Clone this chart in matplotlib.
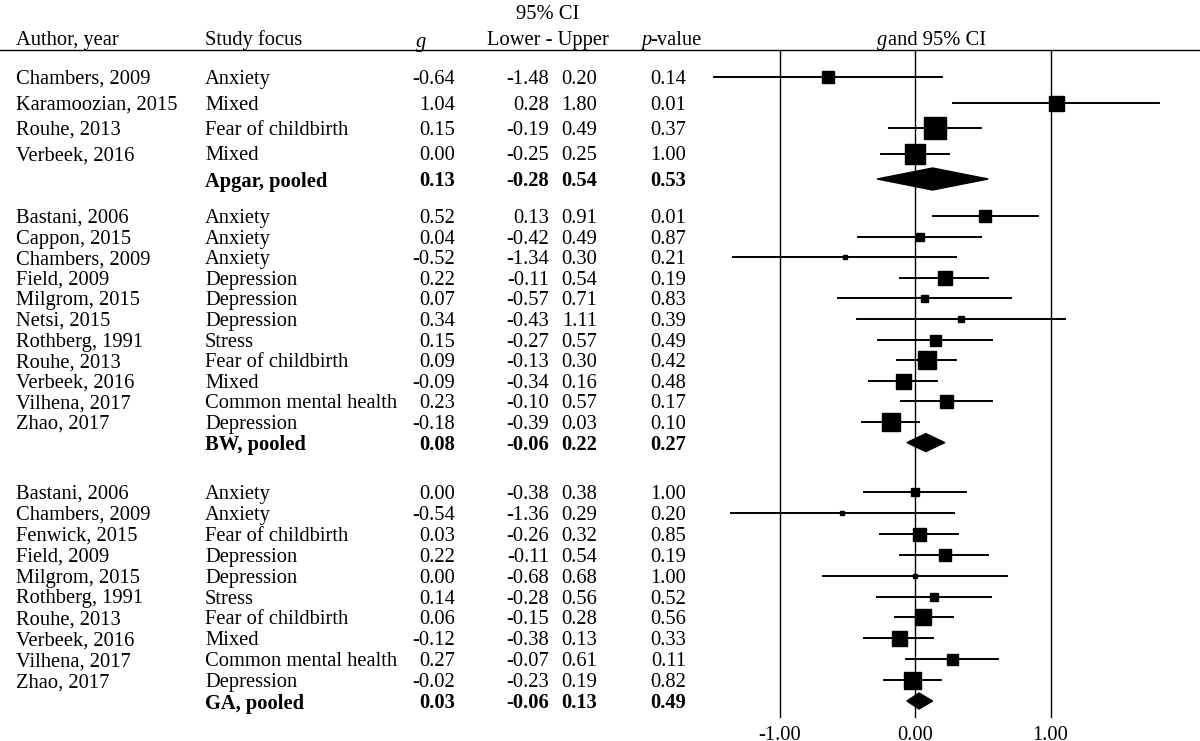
import matplotlib
matplotlib.use("Agg")
import matplotlib.pyplot as plt
from matplotlib.patches import Polygon

authors = [["Chambers, 2009","Karamoozian, 2015","Rouhe, 2013","Verbeek, 2016"],
 ["Bastani, 2006","Cappon, 2015","Chambers, 2009","Field, 2009","Milgrom, 2015","Netsi, 2015","Rothberg, 1991","Rouhe, 2013","Verbeek, 2016","Vilhena, 2017","Zhao, 2017"],
 ["Bastani, 2006","Chambers, 2009","Fenwick, 2015","Field, 2009","Milgrom, 2015","Rothberg, 1991","Rouhe, 2013","Verbeek, 2016","Vilhena, 2017","Zhao, 2017"]]
focus = [["Anxiety","Mixed","Fear of childbirth","Mixed"],
 ["Anxiety","Anxiety","Anxiety","Depression","Depression","Depression","Stress","Fear of childbirth","Mixed","Common mental health","Depression"],
 ["Anxiety","Anxiety","Fear of childbirth","Depression","Depression","Stress","Fear of childbirth","Mixed","Common mental health","Depression"]]
g = [[-0.64,1.04,0.15,0.00],
 [0.52,0.04,-0.52,0.22,0.07,0.34,0.15,0.09,-0.09,0.23,-0.18],
 [0.00,-0.54,0.03,0.22,0.00,0.14,0.06,-0.12,0.27,-0.02]]
lower = [[-1.48,0.28,-0.19,-0.25],
 [0.13,-0.42,-1.34,-0.11,-0.57,-0.43,-0.27,-0.13,-0.34,-0.10,-0.39],
 [-0.38,-1.36,-0.26,-0.11,-0.68,-0.28,-0.15,-0.38,-0.07,-0.23]]
upper = [[0.20,1.80,0.49,0.25],
 [0.91,0.49,0.30,0.54,0.71,1.11,0.57,0.30,0.16,0.57,0.03],
 [0.38,0.29,0.32,0.54,0.68,0.56,0.28,0.13,0.61,0.19]]
pvals = [[0.14,0.01,0.37,1.00],
 [0.01,0.87,0.21,0.19,0.83,0.39,0.49,0.42,0.48,0.17,0.10],
 [1.00,0.20,0.85,0.19,1.00,0.52,0.56,0.33,0.11,0.82]]
weights = [[12,15,22,20],[12,8,5,14,7,6,11,18,15,13,18],[8,4,13,12,4,8,16,15,11,17]]
pooled_names = ["Apgar, pooled","BW, pooled","GA, pooled"]
pooled_g = [0.13,0.08,0.03]
pooled_lo = [-0.28,-0.06,-0.06]
pooled_hi = [0.54,0.22,0.13]
pooled_p = [0.53,0.27,0.49]
ticks = [-1.0,0.0,1.0]

plt.rcParams['font.family'] = ['Liberation Serif','DejaVu Serif']
W,H = 1200,741
fig = plt.figure(figsize=(12,7.41),dpi=100)
ax = fig.add_axes([0,0,1,1])
ax.set_xlim((0-915)/135.5,(W-915)/135.5)
ax.set_ylim(H,0)
ax.axis("off")
tx = fig.add_axes([0,0,1,1],facecolor="none")
tx.set_xlim(0,W); tx.set_ylim(H,0); tx.axis("off")

fs = 14.8
starts = [77,216,492]
steps = [25.5,20.6,20.9]
VA = "center_baseline"

def row(y, a, f, gv, lo, hi, p, bold=False):
    fw = "bold" if bold else "normal"
    kw = dict(fontsize=fs, va=VA, fontweight=fw)
    tx.text(16,y,a,ha="left",**kw)
    tx.text(205,y,f,ha="left",**kw)
    tx.text(455,y,f"{gv:.2f}",ha="right",**kw)
    tx.text(549,y,f"{lo:.2f}",ha="right",**kw)
    tx.text(597,y,f"{hi:.2f}",ha="right",**kw)
    tx.text(686,y,f"{p:.2f}",ha="right",**kw)

for k in range(3):
    for i in range(len(authors[k])):
        y = starts[k]+i*steps[k]
        row(y,authors[k][i],focus[k][i],g[k][i],lower[k][i],upper[k][i],pvals[k][i])
        ax.plot([lower[k][i],upper[k][i]],[y,y],color="black",lw=1.4,zorder=3)
        ax.plot([g[k][i]],[y],marker="s",color="black",ms=weights[k][i]*0.72,zorder=4)
    y = starts[k]+len(authors[k])*steps[k]
    row(y,"",pooled_names[k],pooled_g[k],pooled_lo[k],pooled_hi[k],pooled_p[k],bold=True)
    hh = [11,9,8][k]
    ax.add_patch(Polygon([(pooled_lo[k],y),(pooled_g[k],y-hh),(pooled_hi[k],y),(pooled_g[k],y+hh)],
                         closed=True,color="black",zorder=4))

tx.text(548,12,"95% CI",fontsize=fs,ha="center",va=VA)
tx.text(16,38,"Author, year",fontsize=fs,ha="left",va=VA)
tx.text(205,38,"Study focus",fontsize=fs,ha="left",va=VA)
tx.text(421,40,"g",fontsize=fs,ha="center",va=VA,style="italic")
tx.text(548,38,"Lower - Upper",fontsize=fs,ha="center",va=VA)
tx.text(641,38,"p",fontsize=fs,ha="left",va=VA,style="italic")
tx.text(650,38,"-value",fontsize=fs,ha="left",va=VA)
tx.text(877,38,"g",fontsize=fs,ha="left",va=VA,style="italic")
tx.text(888,38,"and 95% CI",fontsize=fs,ha="left",va=VA)
tx.plot([0,W],[50,50],color="black",lw=1)
for t in ticks:
    ax.plot([t,t],[50,717],color="black",lw=1,zorder=1)
    ax.text(t,733,f"{t:.2f}",fontsize=fs,ha="center",va=VA)

fig.savefig("out.png",dpi=100)
